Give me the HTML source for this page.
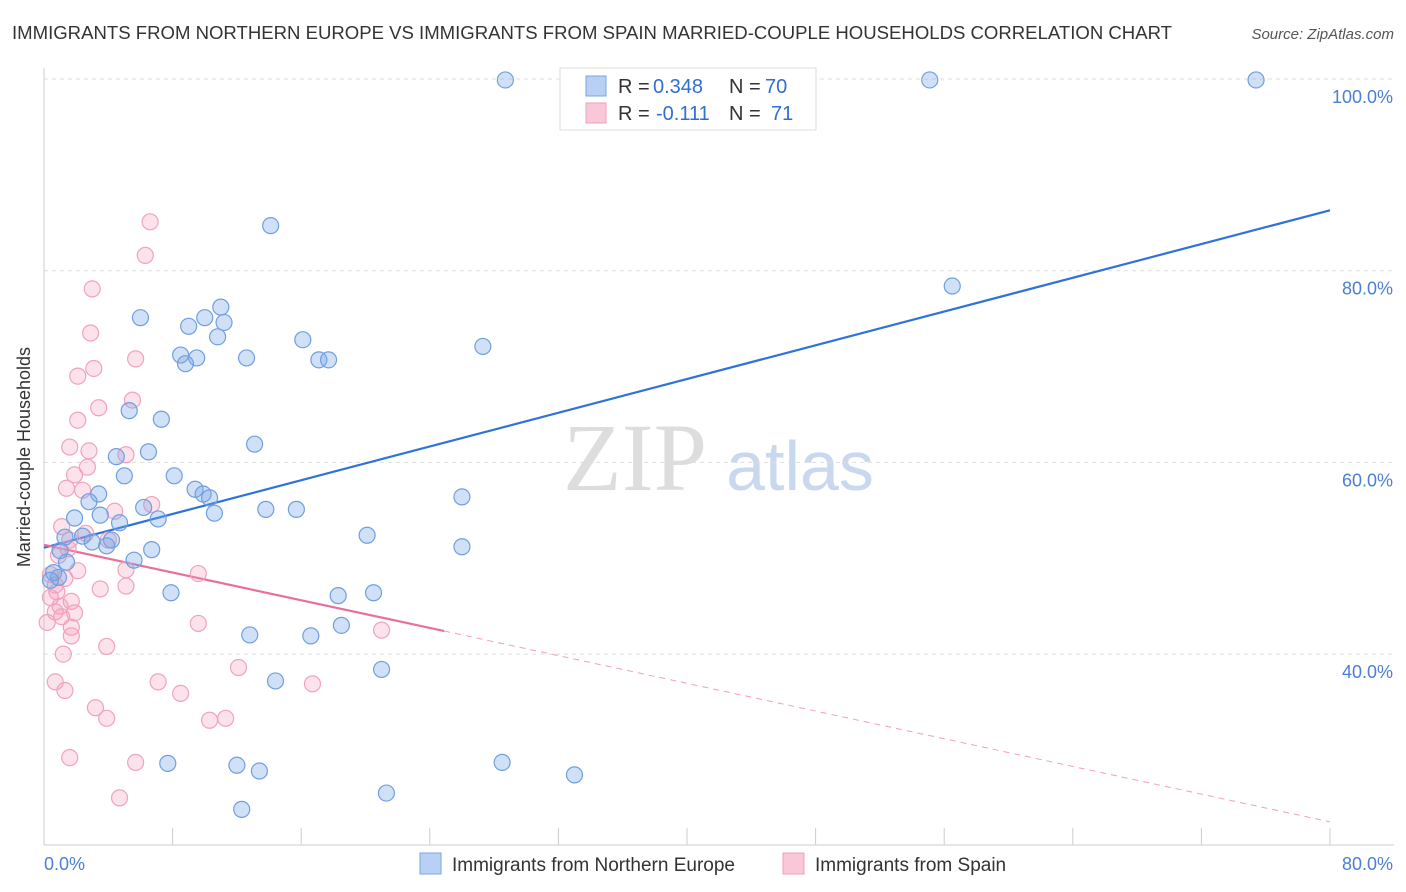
<!DOCTYPE html>
<html><head><meta charset="utf-8"><style>
body{margin:0;background:#fff;font-family:"Liberation Sans",sans-serif;}
svg{display:block}
</style></head><body>
<svg id="chart" width="1406" height="892">
<text x="12" y="39" font-size="18" fill="#333" textLength="1160" lengthAdjust="spacingAndGlyphs">IMMIGRANTS FROM NORTHERN EUROPE VS IMMIGRANTS FROM SPAIN MARRIED-COUPLE HOUSEHOLDS CORRELATION CHART</text>
<text x="1394" y="39" font-size="15" fill="#555" font-style="italic" text-anchor="end">Source: ZipAtlas.com</text>
<text x="30" y="457" font-size="18" fill="#333" text-anchor="middle" transform="rotate(-90 30 457)">Married-couple Households</text>
<g><text x="635" y="490" font-size="96" fill="#ddd" font-family="Liberation Serif,serif" text-anchor="middle">ZIP</text><text x="800" y="490" font-size="70" fill="#c8d8ee" text-anchor="middle">atlas</text></g>
<g id="grid"></g><g id="lines"></g><g id="pts"></g>
<g>
<rect x="560" y="68" width="256" height="62" fill="#fff" stroke="#ddd"/>
<rect x="586" y="76" width="20" height="20" fill="#b8d0f4" stroke="#7aa6e0"/>
<text x="618" y="93" font-size="20" fill="#333">R =</text>
<text x="653" y="93" font-size="20" fill="#2f6fd0">0.348</text>
<text x="729" y="93" font-size="20" fill="#333">N =</text>
<text x="765" y="93" font-size="20" fill="#2f6fd0">70</text>
<rect x="586" y="103" width="20" height="20" fill="#f8c8d8" stroke="#f0a0b8"/>
<text x="618" y="120" font-size="20" fill="#333">R =</text>
<text x="656" y="120" font-size="20" fill="#2f6fd0">-0.111</text>
<text x="729" y="120" font-size="20" fill="#333">N =</text>
<text x="771" y="120" font-size="20" fill="#2f6fd0">71</text>
</g>
<g>
<rect x="420" y="853" width="21" height="21" fill="#b8d0f4" stroke="#7aa6e0"/>
<text x="452" y="871" font-size="19" fill="#333">Immigrants from Northern Europe</text>
<rect x="783" y="853" width="21" height="21" fill="#f8c8d8" stroke="#f0a0b8"/>
<text x="815" y="871" font-size="19" fill="#333">Immigrants from Spain</text>
</g>
</svg>
<script>
const blueX=[28.7,55.1,75.4,14.1,56.5,6.0,11.0,10.0,11.2,9.0,10.8,16.1,27.3,8.5,9.5,8.8,12.6,17.1,17.7,5.3,7.3,13.1,6.5,4.5,8.1,5.0,9.4,9.9,10.3,3.4,26.0,2.8,6.2,13.8,15.7,10.6,3.5,7.1,1.9,4.7,20.1,2.4,1.3,3.0,4.2,3.9,26.0,6.7,1.0,5.6,1.4,0.6,0.9,0.4,7.9,18.3,20.5,18.5,12.8,16.6,21.0,14.4,7.7,12.0,13.4,28.5,33.0,21.3,12.3];
const blueY=[99.9,99.9,99.9,84.7,78.4,75.1,76.2,75.1,74.6,74.2,73.1,72.8,72.1,71.2,70.9,70.3,70.9,70.7,70.7,65.4,64.5,61.9,61.1,60.6,58.6,58.6,57.2,56.7,56.3,56.7,56.4,55.9,55.3,55.1,55.1,54.7,54.5,54.1,54.2,53.7,52.4,52.3,52.2,51.7,51.9,51.3,51.2,50.9,50.8,49.8,49.6,48.5,48.0,47.7,46.4,46.1,46.4,43.0,42.0,41.9,38.4,37.2,28.6,28.4,27.8,28.7,27.4,25.5,23.8];
const pinkX=[6.6,6.3,3.0,2.9,5.7,3.1,2.1,5.5,3.4,2.1,1.6,2.8,5.1,2.7,1.9,1.4,2.4,6.7,4.4,1.1,2.6,1.6,4.0,1.5,0.9,5.1,2.1,9.6,0.4,1.3,0.7,5.1,3.5,0.8,0.4,1.7,1.0,0.7,1.9,1.1,0.2,9.6,1.7,21.0,1.7,3.9,1.2,12.1,7.1,0.7,16.7,8.5,1.3,3.2,3.9,11.3,10.3,1.6,5.7,4.7];
const pinkY=[85.1,81.6,78.1,73.5,70.8,69.8,69.0,66.5,65.7,64.4,61.6,61.2,60.8,59.5,58.7,57.3,57.1,55.6,54.9,53.3,52.6,51.9,51.9,51.0,50.3,48.8,48.7,48.4,48.3,47.9,47.2,47.1,46.8,46.5,45.9,45.5,45.0,44.4,44.3,43.9,43.3,43.2,42.8,42.5,41.9,40.8,40.0,38.6,37.1,37.1,36.9,35.9,36.2,34.4,33.3,33.3,33.1,29.2,28.7,25.0];
const blueTrend=[51.1,86.3];
const pinkTrend=[51.4,22.5];
const pinkSolidEnd=24.9;
const yTicks=[100,80,60,40];
const xTickVals=[0,8,16,24,32,40,48,56,64,72,80];
const xLabels=["0.0%","80.0%"];
const NS="http://www.w3.org/2000/svg";
const sx=v=>44+v/80*1286;
const sy=v=>79+(100-v)/20*191.7;
function mk(tag,attrs,parent){const e=document.createElementNS(NS,tag);for(const k in attrs)e.setAttribute(k,attrs[k]);parent.appendChild(e);return e;}
const grid=document.getElementById('grid');
yTicks.forEach(t=>{
 const l=mk('line',{x1:44,x2:1394,y1:sy(t),y2:sy(t),stroke:'#ddd','stroke-dasharray':'4 4'},grid);
 
 
 const tx=mk('text',{x:1393,y:sy(t)+24,'font-size':18,fill:'#4a7fd4','text-anchor':'end'},grid);
 tx.textContent=t.toFixed(1)+'%';
 
 
});
const ax=mk('line',{x1:44,x2:1394,y1:845,y2:845,stroke:'#ccc'},grid);


const ay=mk('line',{x1:44,x2:44,y1:68,y2:845,stroke:'#ccc'},grid);


xTickVals.forEach(v=>{
 const t=mk('line',{x1:sx(v),x2:sx(v),y1:828,y2:845,stroke:'#ccc'},grid);
 
 
});
const xl0=mk('text',{x:44,y:870,'font-size':18,fill:'#4a7fd4'},grid);xl0.textContent=xLabels[0];


const xl1=mk('text',{x:1393,y:870,'font-size':18,fill:'#4a7fd4','text-anchor':'end'},grid);xl1.textContent=xLabels[1];


const pts=document.getElementById('pts');
pinkX.forEach((x,i)=>{
 const c=mk('circle',{cx:sx(x),cy:sy(pinkY[i]),r:8,fill:'rgba(244,160,190,0.3)',stroke:'#f0a3bb','stroke-width':1.2},pts);
 
 
});
blueX.forEach((x,i)=>{
 const c=mk('circle',{cx:sx(x),cy:sy(blueY[i]),r:8,fill:'rgba(120,165,230,0.35)',stroke:'#6f9fe0','stroke-width':1.2},pts);
 
 
});
const lines=document.getElementById('lines');
const bl=mk('line',{x1:sx(0),y1:sy(blueTrend[0]),x2:sx(80),y2:sy(blueTrend[1]),stroke:'#2f72d8','stroke-width':2.2},lines);


const pAt=x=>pinkTrend[0]+(pinkTrend[1]-pinkTrend[0])*x/80;
const ps=mk('line',{x1:sx(0),y1:sy(pAt(0)),x2:sx(pinkSolidEnd),y2:sy(pAt(pinkSolidEnd)),stroke:'#e8709a','stroke-width':2.2},lines);


const pd=mk('line',{x1:sx(pinkSolidEnd),y1:sy(pAt(pinkSolidEnd)),x2:sx(80),y2:sy(pAt(80)),stroke:'#f0a0b8','stroke-width':1,'stroke-dasharray':'6 5'},lines);


</script>
</body></html>
